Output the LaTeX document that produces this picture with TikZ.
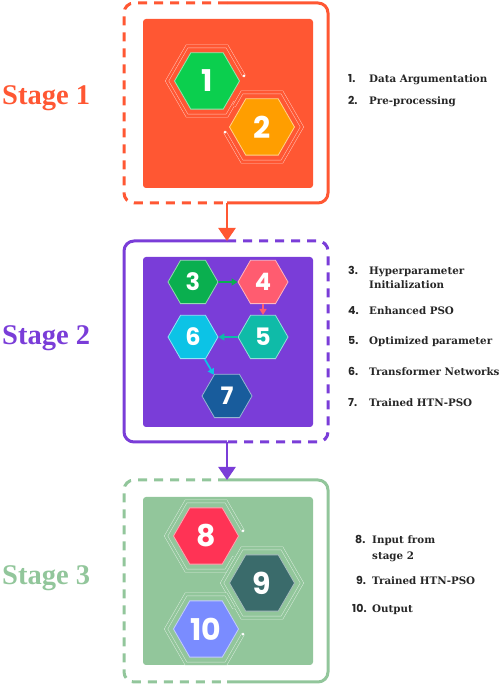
\documentclass[tikz,border=0pt]{standalone}
\usepackage{fontspec}
\setmainfont{Liberation Serif}
\newfontfamily\numfont{Poppins}
\newfontfamily\listfont{DejaVu Serif}
\usepackage{tikz}
\usetikzlibrary{arrows.meta, shapes.geometric}

\definecolor{stageone}{HTML}{FF5733}
\definecolor{stagetwo}{HTML}{7A3DD8}
\definecolor{stagethree}{HTML}{92C69B}
\definecolor{listgray}{HTML}{262626}
\definecolor{hexone}{HTML}{0BCF4E}
\definecolor{hextwo}{HTML}{FF9E00}
\definecolor{hexthree}{HTML}{0AAF4F}
\definecolor{hexfour}{HTML}{FF5C70}
\definecolor{hexfive}{HTML}{0FBBA8}
\definecolor{hexsix}{HTML}{0CC3E6}
\definecolor{hexseven}{HTML}{185C9C}
\definecolor{hexeight}{HTML}{FF3355}
\definecolor{hexnine}{HTML}{3A6B6B}
\definecolor{hexten}{HTML}{7A8CFF}

\tikzset{
	hexbig/.style = {regular polygon, regular polygon sides = 6, minimum size = 65pt, inner sep = 0pt,
		fill = #1, draw = white!55!#1, line width = 0.8pt, text = white,
		font = \numfont\bfseries\fontsize{30}{30}\selectfont},
	hexsmall/.style = {hexbig = #1, minimum size = 50pt, font = \numfont\bfseries\fontsize{24}{24}\selectfont},
	ring/.style = {draw = white!65!#1, double = #1, double distance = 2.4pt, line width = 0.5pt},
	frame/.style = {line width = 3pt, rounded corners = 10pt},
	framedash/.style = {frame, dash pattern = on 9pt off 7pt},
	stagelabel/.style = {anchor = base west, inner sep = 0pt, font = \bfseries\fontsize{28.5}{28.5}\selectfont},
	listnum/.style = {anchor = base west, inner sep = 0pt, text = listgray, font = \numfont\bfseries\fontsize{11}{12}\selectfont},
	listtxt/.style = {anchor = base west, inner sep = 0pt, text = listgray, align = left,
		font = \listfont\bfseries\fontsize{10.3}{14}\selectfont},
	flow/.style = {line width = 2.5pt, -{Triangle[width = 17pt, length = 13pt]}},
	link/.style = {line width = 1.8pt, -{Triangle[width = 7pt, length = 6pt]}}
}

\begin{document}
\begin{tikzpicture} [x = 1pt, y = 1pt]
		\useasboundingbox (0,0) rectangle (502,685);

		% Stage 1 : frame, panel and the two hexagons
		\draw [frame, stageone] (227,682) -- (328,682) -- (328,482) -- (227,482);
		\draw [framedash, stageone] (227,682) -- (124,682) -- (124,482) -- (227,482);
		\fill [stageone, rounded corners = 3pt] (143,497) rectangle (313,666);
		\coordinate (s1out) at (227,482);

		\node (h1) [hexbig = hexone] at (207,604) {1};
		\node (h2) [hexbig = hextwo] at (262,558) {2};

		\draw [ring = stageone, shift = {(h1)}] (37,5.2) -- (60:40) -- (120:40) -- (180:40) -- (240:40) -- (300:40) -- (28,-20.8);
		\fill [white] ([shift = {(37,5.2)}]h1) circle (1.5pt);
		\draw [ring = stageone, shift = {(h2)}] (-37,-5.2) -- (240:40) -- (300:40) -- (0:40) -- (60:40) -- (120:40) -- (-28,20.8);
		\fill [white] ([shift = {(-37,-5.2)}]h2) circle (1.5pt);

		\node (st1) [stagelabel, text = stageone] at (2,580) {Stage 1};

		% Stage 2 : frame, panel and the five hexagons
		\coordinate (s2in) at (227,444);
		\draw [frame, stagetwo] (227,444) -- (124,444) -- (124,243) -- (227,243);
		\draw [framedash, stagetwo] (227,444) -- (328,444) -- (328,243) -- (227,243);
		\fill [stagetwo, rounded corners = 3pt] (143,258) rectangle (313,428);
		\coordinate (s2out) at (227,243);

		\node (h3) [hexsmall = hexthree] at (193,403) {3};
		\node (h4) [hexsmall = hexfour] at (263,403) {4};
		\node (h5) [hexsmall = hexfive] at (263,348) {5};
		\node (h6) [hexsmall = hexsix] at (193,348) {6};
		\node (h7) [hexsmall = hexseven] at (227,289) {7};

		\node (st2) [stagelabel, text = stagetwo] at (2,340) {Stage 2};

		% Stage 3 : frame, panel and the three hexagons
		\coordinate (s3in) at (227,205);
		\draw [frame, stagethree] (227,205) -- (328,205) -- (328,3) -- (227,3);
		\draw [framedash, stagethree] (227,205) -- (124,205) -- (124,3) -- (227,3);
		\fill [stagethree, rounded corners = 3pt] (143,20) rectangle (313,188);

		\node (h8) [hexbig = hexeight] at (206,149) {8};
		\node (h9) [hexbig = hexnine] at (262,102) {9};
		\node (h10) [hexbig = hexten] at (206,56) {10};

		\draw [ring = stagethree, shift = {(h8)}] (37,5.2) -- (60:40) -- (120:40) -- (180:40) -- (240:40) -- (300:40) -- (28,-20.8);
		\fill [white] ([shift = {(37,5.2)}]h8) circle (1.5pt);
		\draw [ring = stagethree, shift = {(h9)}] (0:40) -- (60:40) -- (120:40) -- (180:40) -- (240:40) -- (300:40) -- cycle;
		\draw [ring = stagethree, shift = {(h10)}] (37,-5.2) -- (300:40) -- (240:40) -- (180:40) -- (120:40) -- (60:40) -- (28,20.8);
		\fill [white] ([shift = {(37,-5.2)}]h10) circle (1.5pt);

		\node (st3) [stagelabel, text = stagethree] at (2,100) {Stage 3};

		% Draw Arrows/Connections
		\draw [flow, stageone] (s1out) -- (s2in);
		\draw [flow, stagetwo] (s2out) -- (s3in);
		\draw [link, hexthree] (h3.east) -- (h4.west);
		\draw [link, hexfour] (h4.south) -- (h5.north);
		\draw [link, hexfive] (h5.west) -- (h6.east);
		\draw [link, hexsix] (h6.-62) -- (h7.122);

		% List of steps (two-line items are placed at their last line)
		\node (n1) [listnum] at (348,602) {1.};
		\node (t1) [listtxt] at (369,602) {Data Argumentation};
		\node (n2) [listnum] at (348,580) {2.};
		\node (t2) [listtxt] at (369,580) {Pre-processing};
		\node (n3) [listnum] at (348,410) {3.};
		\node (t3) [listtxt] at (369,396) {Hyperparameter\\Initialization};
		\node (n4) [listnum] at (348,370) {4.};
		\node (t4) [listtxt] at (369,370) {Enhanced PSO};
		\node (n5) [listnum] at (348,340) {5.};
		\node (t5) [listtxt] at (369,340) {Optimized parameter};
		\node (n6) [listnum] at (348,309) {6.};
		\node (t6) [listtxt] at (369,309) {Transformer Networks};
		\node (n7) [listnum] at (348,278) {7.};
		\node (t7) [listtxt] at (369,278) {Trained HTN-PSO};
		\node (n8) [listnum] at (355,141) {8.};
		\node (t8) [listtxt, font = \listfont\bfseries\fontsize{10.3}{16}\selectfont] at (372,125) {Input from\\stage 2};
		\node (n9) [listnum] at (356,100) {9.};
		\node (t9) [listtxt] at (372,100) {Trained HTN-PSO};
		\node (n10) [listnum] at (352,72) {10.};
		\node (t10) [listtxt] at (372,72) {Output};
	\end{tikzpicture}
\end{document}
